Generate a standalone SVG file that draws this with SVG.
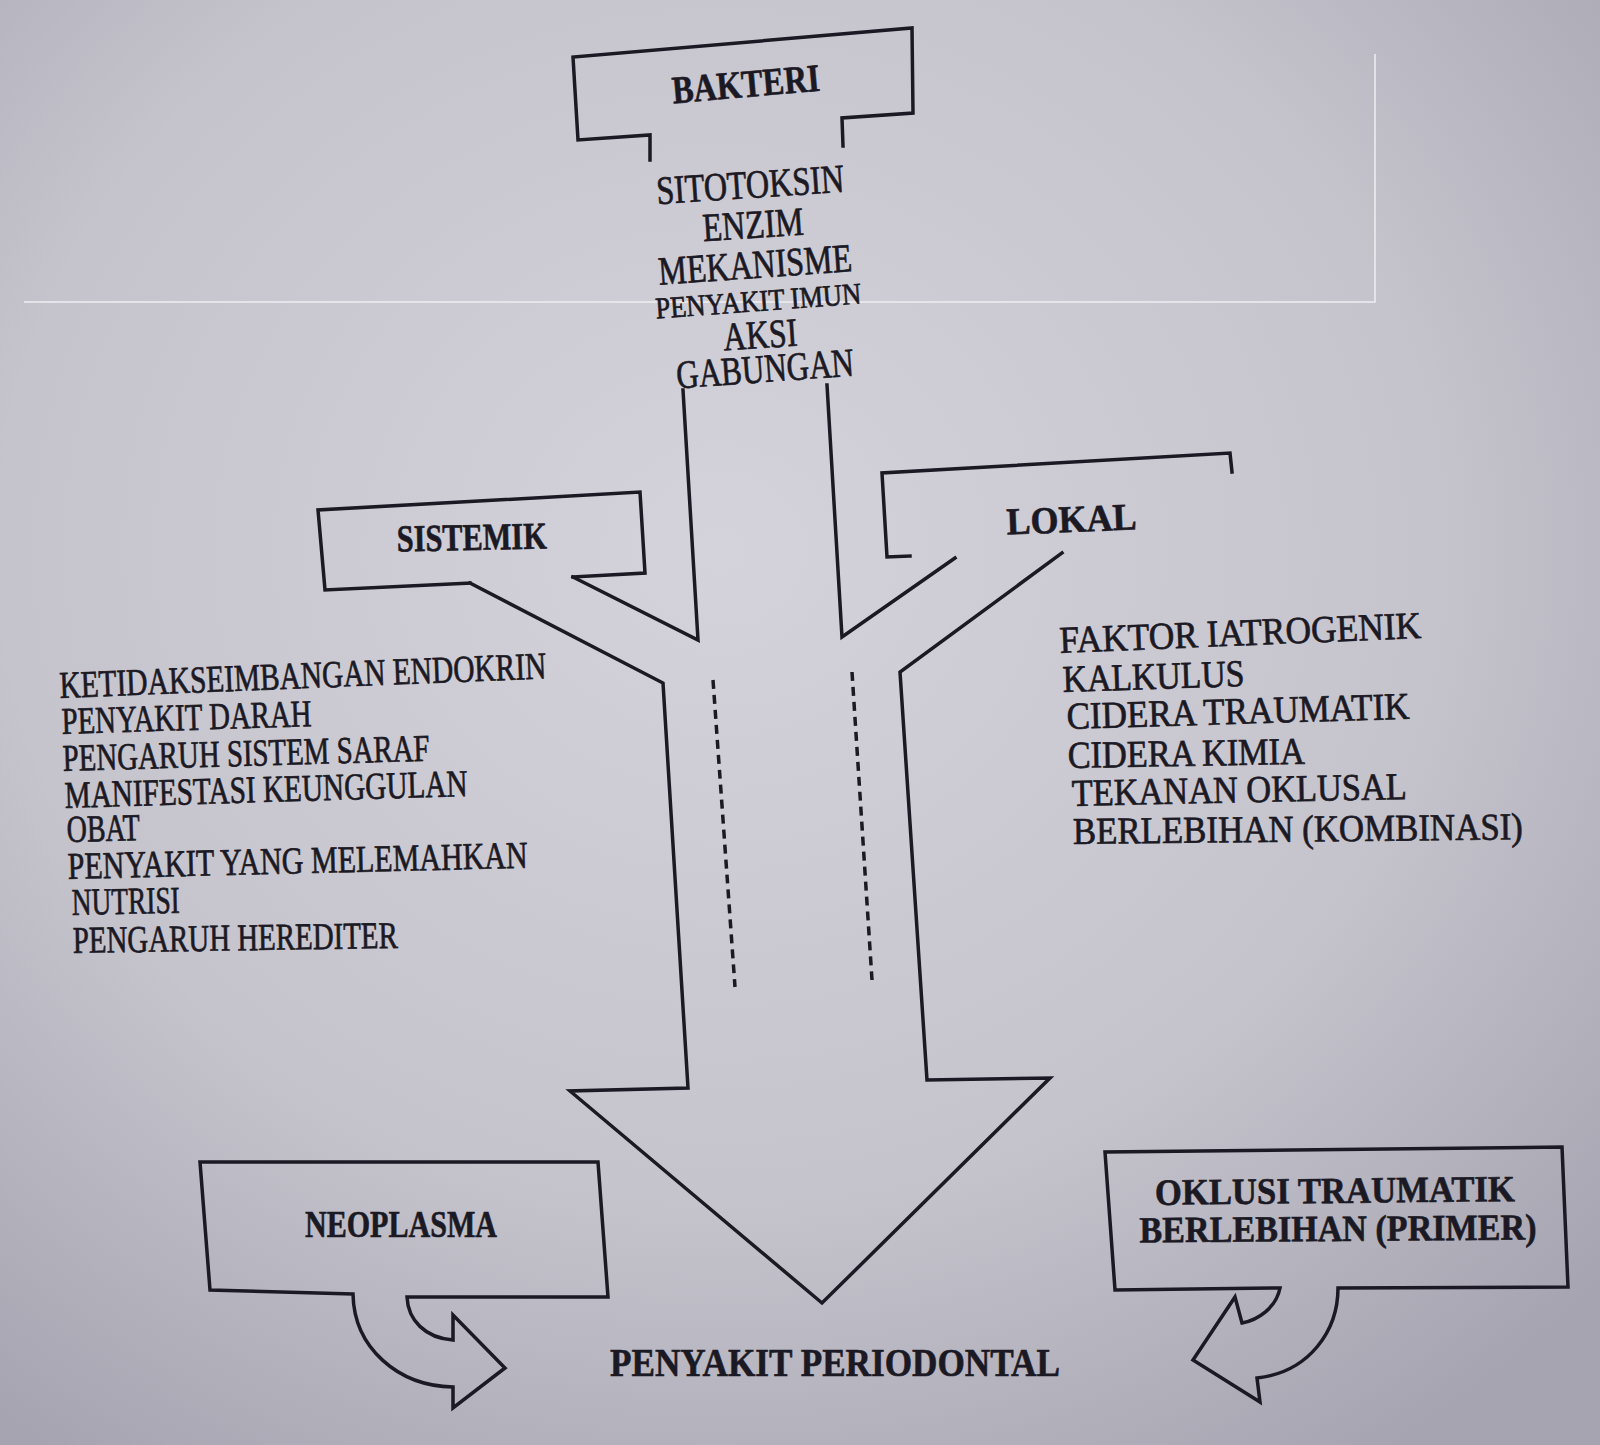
<svg xmlns="http://www.w3.org/2000/svg" width="1600" height="1445" viewBox="0 0 1600 1445">
<defs>
<radialGradient id="bg" cx="45%" cy="38%" r="75%">
<stop offset="0" stop-color="#d4d2da"/>
<stop offset="0.6" stop-color="#c5c3cc"/>
<stop offset="1" stop-color="#a6a4b0"/>
</radialGradient>
<style>
.ln{fill:none;stroke:#1b1923;stroke-width:3.5;stroke-linejoin:miter;stroke-linecap:square}
.dash{fill:none;stroke:#1b1923;stroke-width:3.5;stroke-dasharray:9 6}
.h{font-family:"Liberation Serif","Times New Roman",serif;font-weight:bold;fill:#1b1923;stroke:#1b1923;stroke-width:0.6}
.t{font-family:"Liberation Serif","Times New Roman",serif;fill:#1b1923;stroke:#1b1923;stroke-width:0.7}
.art{stroke:#eeeef2;stroke-width:1.5;fill:none}
</style>
</defs>
<rect width="1600" height="1445" fill="url(#bg)"/>
<path class="art" d="M24,302 L1375,302 L1375,54"/>

<g id="connectors">
<path class="ln" d="M683,390 L698,640 L573,577"/>
<path class="ln" d="M827,385 L842,637 L955,558"/>
<path class="ln" d="M470,583 L663,683 L688,1088 L570,1091 L822,1303 L1050,1078 L927,1080 L900,672 L1062,553"/>
<path class="dash" d="M713,680 L735,987"/>
<path class="dash" d="M852,672 L872,980"/>
</g>

<g id="bakteri">
<path class="ln" d="M650,160 L650,135 L578,140 L573,57 L912,28 L913,113 L842,118 L843,146"/>
<text class="h" font-size="39" text-anchor="middle" x="747" y="97" textLength="148" lengthAdjust="spacingAndGlyphs" transform="rotate(-5 747 97)">BAKTERI</text>
</g>

<g id="mekanisme">
<text class="t" font-size="40" text-anchor="middle" x="751" y="198" textLength="188" lengthAdjust="spacingAndGlyphs" transform="rotate(-3.8 751 198)">SITOTOKSIN</text>
<text class="t" font-size="40" text-anchor="middle" x="754" y="238" textLength="101" lengthAdjust="spacingAndGlyphs" transform="rotate(-3.8 754 238)">ENZIM</text>
<text class="t" font-size="40" text-anchor="middle" x="756" y="278" textLength="194" lengthAdjust="spacingAndGlyphs" transform="rotate(-4 756 278)">MEKANISME</text>
<text class="t" font-size="30" text-anchor="middle" x="759" y="311" textLength="206" lengthAdjust="spacingAndGlyphs" transform="rotate(-4.2 759 311)">PENYAKIT IMUN</text>
<text class="t" font-size="40" text-anchor="middle" x="761" y="348" textLength="74" lengthAdjust="spacingAndGlyphs" transform="rotate(-3.8 761 348)">AKSI</text>
<text class="t" font-size="40" text-anchor="middle" x="766" y="382" textLength="178" lengthAdjust="spacingAndGlyphs" transform="rotate(-4.2 766 382)">GABUNGAN</text>
</g>

<g id="sistemik">
<path class="ln" d="M573,577 L645,573 L640,492 L318,510 L325,590 L470,583"/>
<text class="h" font-size="38" text-anchor="middle" x="472" y="550" textLength="150" lengthAdjust="spacingAndGlyphs" transform="rotate(-1.2 472 550)">SISTEMIK</text>
</g>

<g id="lokal">
<path class="ln" d="M910,556 L887,557 L882,473 L1230,453 L1232,472"/>
<text class="h" font-size="38" text-anchor="middle" x="1072" y="532" textLength="130" lengthAdjust="spacingAndGlyphs" transform="rotate(-2.3 1072 532)">LOKAL</text>
</g>

<g id="faktor-sistemik">
<text class="t" font-size="38" x="60" y="698" textLength="487" lengthAdjust="spacingAndGlyphs" transform="rotate(-2.3 60 698)">KETIDAKSEIMBANGAN ENDOKRIN</text>
<text class="t" font-size="38" x="62" y="734" textLength="250" lengthAdjust="spacingAndGlyphs" transform="rotate(-1.8 62 734)">PENYAKIT DARAH</text>
<text class="t" font-size="38" x="63" y="771" textLength="367" lengthAdjust="spacingAndGlyphs" transform="rotate(-1.6 63 771)">PENGARUH SISTEM SARAF</text>
<text class="t" font-size="38" x="65" y="808" textLength="403" lengthAdjust="spacingAndGlyphs" transform="rotate(-1.7 65 808)">MANIFESTASI KEUNGGULAN</text>
<text class="t" font-size="38" x="67" y="842" textLength="73" lengthAdjust="spacingAndGlyphs" transform="rotate(-1.5 67 842)">OBAT</text>
<text class="t" font-size="38" x="68" y="879" textLength="460" lengthAdjust="spacingAndGlyphs" transform="rotate(-1.4 68 879)">PENYAKIT YANG MELEMAHKAN</text>
<text class="t" font-size="38" x="72" y="915" textLength="108" lengthAdjust="spacingAndGlyphs" transform="rotate(-1.2 72 915)">NUTRISI</text>
<text class="t" font-size="38" x="73" y="953" textLength="325" lengthAdjust="spacingAndGlyphs" transform="rotate(-0.9 73 953)">PENGARUH HEREDITER</text>
</g>

<g id="faktor-lokal">
<text class="t" font-size="38" x="1060" y="653" textLength="362" lengthAdjust="spacingAndGlyphs" transform="rotate(-2.4 1060 653)">FAKTOR IATROGENIK</text>
<text class="t" font-size="38" x="1063" y="692" textLength="182" lengthAdjust="spacingAndGlyphs" transform="rotate(-1.9 1063 692)">KALKULUS</text>
<text class="t" font-size="38" x="1067" y="729" textLength="343" lengthAdjust="spacingAndGlyphs" transform="rotate(-1.7 1067 729)">CIDERA TRAUMATIK</text>
<text class="t" font-size="38" x="1068" y="768" textLength="237" lengthAdjust="spacingAndGlyphs" transform="rotate(-1.0 1068 768)">CIDERA KIMIA</text>
<text class="t" font-size="38" x="1072" y="806" textLength="335" lengthAdjust="spacingAndGlyphs" transform="rotate(-1.2 1072 806)">TEKANAN OKLUSAL</text>
<text class="t" font-size="38" x="1073" y="844" textLength="450" lengthAdjust="spacingAndGlyphs" transform="rotate(-0.6 1073 844)">BERLEBIHAN (KOMBINASI)</text>
</g>

<g id="neoplasma">
<path class="ln" d="M353,1294 L210,1290 L200,1162 L598,1162 L608,1297 L407,1297 C408,1320 425,1338 453,1340 L453,1315 L505,1368 L453,1408 L453,1387 C398,1386 354,1348 353,1294 Z"/>
<text class="h" font-size="37" text-anchor="middle" x="401" y="1237" textLength="192" lengthAdjust="spacingAndGlyphs">NEOPLASMA</text>
</g>

<g id="oklusi">
<path class="ln" d="M1280,1288 L1115,1290 L1105,1152 L1562,1147 L1568,1287 L1338,1288 C1338,1330 1310,1372 1257,1378 L1260,1402 L1193,1360 L1235,1297 L1242,1323 C1258,1320 1276,1308 1280,1288 Z"/>
<text class="h" font-size="37" text-anchor="middle" x="1335" y="1203" textLength="360" lengthAdjust="spacingAndGlyphs" transform="rotate(-0.6 1335 1203)">OKLUSI TRAUMATIK</text>
<text class="h" font-size="37" text-anchor="middle" x="1338" y="1241" textLength="397" lengthAdjust="spacingAndGlyphs" transform="rotate(-0.4 1338 1241)">BERLEBIHAN (PRIMER)</text>
</g>

<g id="penyakit-periodontal">
<text class="h" font-size="39" text-anchor="middle" x="835" y="1376" textLength="450" lengthAdjust="spacingAndGlyphs">PENYAKIT PERIODONTAL</text>
</g>
</svg>
